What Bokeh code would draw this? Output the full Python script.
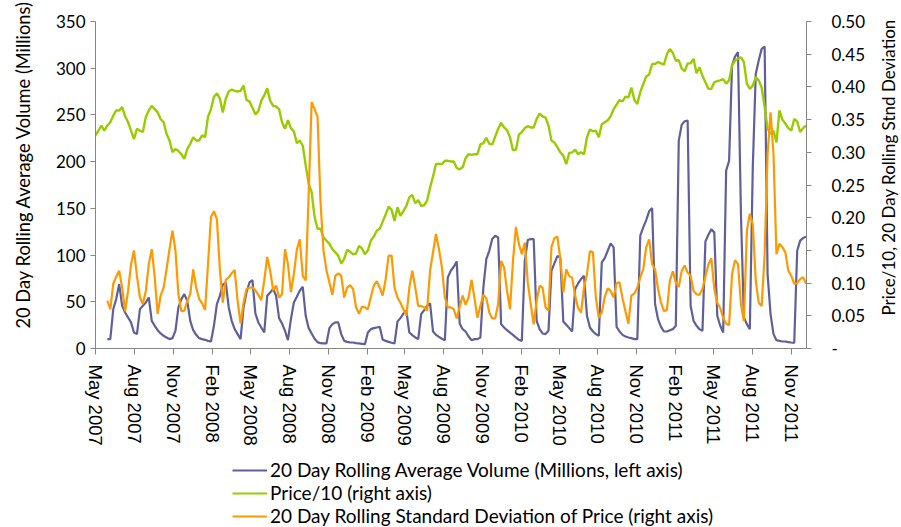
import numpy as np
import pandas as pd
from bokeh.plotting import figure
from bokeh.layouts import column, row
from bokeh.models import (Range1d, LinearAxis, FixedTicker, DatetimeTickFormatter,
                          NumeralTickFormatter, Legend, LegendItem, Title)
from bokeh.embed import file_html
from bokeh.resources import INLINE

nan = float("nan")

# ---------------- data (weekly samples) ----------------
start_date = "2007-05-01"
x_end_date = "2011-12-07"

tick_labels = ["May 2007", "Aug 2007", "Nov 2007", "Feb 2008", "May 2008", "Aug 2008",
               "Nov 2008", "Feb 2009", "May 2009", "Aug 2009", "Nov 2009", "Feb 2010",
               "May 2010", "Aug 2010", "Nov 2010", "Feb 2011", "May 2011", "Aug 2011",
               "Nov 2011"]
left_ticks = [0, 50, 100, 150, 200, 250, 300, 350]
right_ticks = [0.0, 0.05, 0.10, 0.15, 0.20, 0.25, 0.30, 0.35, 0.40, 0.45, 0.50]

price_10 = [
    0.326, 0.333, 0.341, 0.333, 0.341, 0.346, 0.356, 0.364, 0.364, 0.369,
    0.355, 0.346, 0.333, 0.320, 0.336, 0.333, 0.331, 0.354, 0.364, 0.371,
    0.366, 0.361, 0.351, 0.346, 0.328, 0.318, 0.300, 0.305, 0.302, 0.297,
    0.290, 0.305, 0.313, 0.323, 0.318, 0.318, 0.326, 0.323, 0.354, 0.366,
    0.385, 0.390, 0.382, 0.361, 0.382, 0.393, 0.396, 0.394, 0.393, 0.394,
    0.402, 0.380, 0.378, 0.368, 0.358, 0.363, 0.379, 0.387, 0.398, 0.379,
    0.371, 0.370, 0.366, 0.346, 0.336, 0.349, 0.337, 0.332, 0.314, 0.318,
    0.310, 0.280, 0.252, 0.239, 0.201, 0.183, 0.183, 0.170, 0.165, 0.160,
    0.152, 0.147, 0.142, 0.130, 0.137, 0.151, 0.148, 0.144, 0.145, 0.157,
    0.153, 0.144, 0.150, 0.165, 0.171, 0.180, 0.183, 0.194, 0.205, 0.217,
    0.212, 0.195, 0.216, 0.203, 0.210, 0.218, 0.231, 0.235, 0.222, 0.227,
    0.218, 0.219, 0.226, 0.246, 0.263, 0.282, 0.282, 0.282, 0.287, 0.287,
    0.286, 0.286, 0.276, 0.274, 0.277, 0.291, 0.297, 0.296, 0.297, 0.297,
    0.312, 0.314, 0.322, 0.313, 0.312, 0.324, 0.336, 0.345, 0.338, 0.334,
    0.323, 0.303, 0.304, 0.327, 0.331, 0.337, 0.340, 0.338, 0.338, 0.351,
    0.359, 0.355, 0.353, 0.341, 0.318, 0.315, 0.308, 0.300, 0.295, 0.282,
    0.299, 0.300, 0.304, 0.297, 0.300, 0.297, 0.323, 0.335, 0.332, 0.333,
    0.323, 0.343, 0.346, 0.349, 0.355, 0.366, 0.373, 0.380, 0.378, 0.385,
    0.384, 0.399, 0.380, 0.374, 0.392, 0.404, 0.416, 0.419, 0.435, 0.435,
    0.438, 0.436, 0.434, 0.450, 0.458, 0.452, 0.440, 0.441, 0.428, 0.424,
    0.436, 0.436, 0.443, 0.421, 0.430, 0.417, 0.407, 0.397, 0.397, 0.407,
    0.409, 0.410, 0.412, 0.405, 0.410, 0.433, 0.440, 0.443, 0.445, 0.438,
    0.405, 0.397, 0.402, 0.415, 0.410, 0.399, 0.369, 0.336, 0.328, 0.333,
    0.315, 0.364, 0.350, 0.344, 0.337, 0.333, 0.351, 0.347, 0.331, 0.337, 0.341,
]

volume_millions = [
    nan, nan, nan, nan, 10.0, 10.0, 42.0, 53.0, 69.0, 45.7,
    38.6, 33.2, 27.9, 17.1, 15.4, 42.1, 45.7, 49.3, 54.6, 29.6,
    24.3, 19.6, 16.1, 13.6, 11.8, 10.0, 11.1, 18.9, 43.9, 52.9,
    58.2, 51.0, 29.6, 19.6, 14.6, 11.1, 10.0, 9.3, 8.2, 7.5,
    24.3, 47.5, 56.4, 68.2, 70.7, 43.9, 29.6, 20.7, 15.4, 10.0,
    43.9, 60.0, 70.7, 73.2, 37.5, 27.9, 22.5, 17.1, 56.4, 60.0,
    63.6, 56.4, 32.5, 26.8, 18.9, 8.9, 31.4, 49.3, 55.4, 61.8,
    66.1, 35.0, 21.8, 16.1, 10.4, 6.8, 5.7, 5.4, 5.4, 21.8,
    26.1, 27.9, 27.9, 15.4, 8.2, 7.1, 6.4, 6.4, 5.7, 5.4,
    5.0, 4.6, 17.1, 20.7, 21.8, 22.5, 23.2, 9.3, 8.2, 7.1,
    6.1, 5.4, 28.9, 32.5, 37.5, 40.4, 17.1, 14.3, 11.8, 10.0,
    36.8, 41.1, 45.7, 48.2, 18.2, 14.6, 12.5, 10.4, 8.9, 76.1,
    83.2, 87.5, 93.2, 26.8, 20.7, 18.2, 12.9, 8.9, 10.0, 10.0,
    11.8, 65.4, 95.7, 104.6, 117.1, 120.7, 118.9, 26.1, 22.5, 19.6,
    17.1, 14.6, 11.8, 9.3, 8.2, 93.9, 116.1, 117.1, 117.1, 29.6,
    20.7, 16.1, 15.4, 18.9, 83.2, 91.1, 98.9, 97.5, 28.9, 25.4,
    21.8, 18.2, 63.6, 69.6, 74.3, 77.9, 35.0, 22.5, 18.2, 15.4,
    13.6, 92.1, 96.8, 104.6, 112.5, 108.2, 23.2, 18.2, 14.6, 12.9,
    11.8, 11.1, 10.0, 10.0, 120.7, 129.6, 137.5, 146.8, 150.4, 47.5,
    31.4, 23.2, 18.2, 18.2, 19.6, 20.7, 24.3, 222.5, 239.6, 243.2,
    243.9, 45.7, 29.6, 24.3, 20.7, 18.9, 114.6, 121.8, 127.5, 124.3,
    35.0, 24.3, 17.1, 190.4, 201.0, 302.9, 312.5, 317.1, 143.9, 33.2,
    26.1, 20.7, 193.9, 293.9, 308.2, 320.7, 323.2, 79.6, 36.8, 15.4,
    8.9, 8.2, 7.5, 7.5, 6.8, 6.4, 6.1, 104.6, 115.4, 118.2, 119.6,
]

price_std = [
    nan, nan, nan, nan, 0.073, 0.060, 0.099, 0.110, 0.119, 0.093,
    0.057, 0.088, 0.129, 0.150, 0.111, 0.078, 0.068, 0.088, 0.129, 0.152,
    0.109, 0.053, 0.081, 0.093, 0.121, 0.152, 0.180, 0.150, 0.083, 0.057,
    0.058, 0.073, 0.083, 0.121, 0.093, 0.076, 0.069, 0.059, 0.129, 0.201,
    0.210, 0.198, 0.121, 0.070, 0.105, 0.109, 0.115, 0.120, 0.073, 0.038,
    0.070, 0.091, 0.093, 0.093, 0.089, 0.082, 0.074, 0.104, 0.140, 0.119,
    0.089, 0.096, 0.078, 0.083, 0.152, 0.129, 0.086, 0.114, 0.151, 0.167,
    0.111, 0.104, 0.236, 0.377, 0.366, 0.354, 0.224, 0.150, 0.120, 0.101,
    0.082, 0.111, 0.115, 0.111, 0.078, 0.093, 0.097, 0.091, 0.063, 0.053,
    0.064, 0.063, 0.060, 0.079, 0.096, 0.103, 0.093, 0.081, 0.106, 0.142,
    0.142, 0.093, 0.078, 0.070, 0.060, 0.050, 0.093, 0.119, 0.093, 0.065,
    0.065, 0.063, 0.058, 0.119, 0.147, 0.175, 0.152, 0.124, 0.078, 0.063,
    0.063, 0.060, 0.046, 0.064, 0.081, 0.067, 0.078, 0.105, 0.077, 0.047,
    0.065, 0.082, 0.077, 0.055, 0.046, 0.046, 0.068, 0.134, 0.124, 0.088,
    0.060, 0.134, 0.186, 0.160, 0.144, 0.162, 0.101, 0.068, 0.037, 0.073,
    0.096, 0.093, 0.063, 0.058, 0.155, 0.169, 0.171, 0.137, 0.086, 0.121,
    0.111, 0.108, 0.081, 0.062, 0.055, 0.093, 0.114, 0.149, 0.147, 0.078,
    0.047, 0.055, 0.079, 0.092, 0.088, 0.078, 0.100, 0.101, 0.077, 0.057,
    0.038, 0.081, 0.084, 0.093, 0.109, 0.121, 0.155, 0.167, 0.129, 0.121,
    0.091, 0.070, 0.057, 0.059, 0.104, 0.118, 0.101, 0.094, 0.119, 0.127,
    0.116, 0.111, 0.088, 0.083, 0.082, 0.091, 0.110, 0.128, 0.138, 0.091,
    0.070, 0.062, 0.047, 0.038, 0.036, 0.114, 0.135, 0.129, 0.068, 0.042,
    0.180, 0.206, 0.190, 0.104, 0.070, 0.065, 0.144, 0.297, 0.361, 0.297,
    0.144, 0.160, 0.155, 0.147, 0.119, 0.111, 0.099, 0.100, 0.106, 0.109, 0.099,
]

series_labels = ["20 Day Rolling Average Volume (Millions, left axis)",
                 "Price/10 (right axis)",
                 "20 Day Rolling Standard Deviation of Price (right axis)"]
left_title = "20 Day Rolling Average Volume (Millions)"
right_title = "Price/10, 20 Day Rolling Stnd Deviation"

# ---------------- figure ----------------
dates = pd.date_range(start_date, periods=len(price_10), freq="7D")

FONT = "Lato"
AXIS_COLOR = "#868686"
PURPLE = "#5F5F9C"
GREEN = "#99CC00"
ORANGE = "#FF9900"
COLORS = [PURPLE, GREEN, ORANGE]
EM = "\u2003"   # blank lead-in to lift the rotated left title

W_MAIN = 868
W_SIDE = 32
H_MAIN = 452
H_LEG = 74
TOP, BOTTOM = 21, 348

p = figure(width=W_MAIN, height=H_MAIN, x_axis_type="datetime",
           x_range=Range1d(pd.Timestamp(start_date), pd.Timestamp(x_end_date)),
           y_range=Range1d(0, 350),
           output_backend="svg", toolbar_location=None,
           min_border_left=95, min_border_right=W_MAIN - 809, min_border_top=TOP,
           min_border_bottom=H_MAIN - BOTTOM)
p.extra_y_ranges = {"right": Range1d(0, 0.5)}
p.outline_line_color = None
p.xgrid.grid_line_color = None
p.ygrid.grid_line_color = None
p.background_fill_color = "white"

p.line(dates, volume_millions, line_color=PURPLE, line_width=2.2)
p.line(dates, price_10, line_color=GREEN, line_width=2.4, y_range_name="right")
p.line(dates, price_std, line_color=ORANGE, line_width=2.2, y_range_name="right")

# x axis
xax = p.xaxis[0]
xax.ticker = FixedTicker(ticks=[pd.to_datetime(t, format="%b %Y").timestamp() * 1000
                                for t in tick_labels])
xax.formatter = DatetimeTickFormatter(days="%b %Y", months="%b %Y", years="%b %Y",
                                      hours="%b %Y", minutes="%b %Y", seconds="%b %Y",
                                      milliseconds="%b %Y", microseconds="%b %Y")
xax.major_label_orientation = "vertical"
xax.major_label_text_font = "Liberation Sans"
xax.major_label_text_font_size = "18.5px"
xax.major_label_standoff = 10

# left axis
yax = p.yaxis[0]
yax.ticker = FixedTicker(ticks=left_ticks)
yax.axis_label = EM * 3 + left_title
yax.major_label_text_font = FONT
yax.major_label_text_font_size = "17px"
yax.major_label_standoff = 5
yax.axis_label_text_font = FONT
yax.axis_label_text_font_size = "18.3px"
yax.axis_label_text_font_style = "normal"
yax.axis_label_standoff = 19

# right axis (its title is drawn in the narrow strip to the right)
rax = LinearAxis(y_range_name="right", ticker=FixedTicker(ticks=right_ticks),
                 formatter=NumeralTickFormatter(format="0.00"))
rax.major_label_overrides = {0: "-"}
rax.major_label_text_font = FONT
rax.major_label_text_font_size = "17px"
rax.major_label_standoff = 20
p.add_layout(rax, "right")

for ax in (xax, yax, rax):
    ax.axis_line_color = AXIS_COLOR
    ax.major_tick_line_color = AXIS_COLOR
    ax.minor_tick_line_color = None
    ax.major_tick_in = 0
    ax.major_tick_out = 5
    ax.major_label_text_color = "black"
    ax.axis_label_text_color = "black"
xax.major_tick_out = 6

# ---------------- narrow strip carrying the right-hand axis title ----------------
side = figure(width=W_SIDE, height=H_MAIN, x_range=Range1d(0, 1), y_range=Range1d(0, 1),
              output_backend="svg", toolbar_location=None,
              min_border_left=W_SIDE - 2, min_border_right=2,
              min_border_top=TOP, min_border_bottom=H_MAIN - BOTTOM)
side.axis.visible = False
side.grid.visible = False
side.outline_line_color = None
side.line([nan, nan], [nan, nan], line_alpha=0)
side.add_layout(Title(text=right_title, align="left", offset=33, standoff=0,
                      vertical_align="bottom", text_font=FONT, text_font_size="17px",
                      text_font_style="normal", text_color="black"), "left")

# ---------------- legend strip below the chart ----------------
lg = figure(width=W_MAIN + W_SIDE, height=H_LEG, x_range=Range1d(0, 1),
            y_range=Range1d(0, 1), output_backend="svg", toolbar_location=None,
            min_border=0, min_border_left=0, min_border_right=0,
            min_border_top=0, min_border_bottom=0)
lg.axis.visible = False
lg.grid.visible = False
lg.outline_line_color = None
items = []
for lab, col in zip(series_labels, COLORS):
    r = lg.line([nan, nan], [nan, nan], line_color=col, line_width=2.2)
    items.append(LegendItem(label=lab, renderers=[r]))
legend = Legend(items=items, location=(232, -1), orientation="vertical",
                glyph_width=35, glyph_height=22, label_height=22, spacing=0,
                padding=0, margin=0, label_standoff=3,
                border_line_alpha=0, background_fill_alpha=0,
                label_text_font=FONT, label_text_font_size="19px",
                label_text_color="black")
lg.add_layout(legend, "center")

layout = column(row(p, side, spacing=0), lg, spacing=0)
open("out.html", "w").write(file_html(layout, INLINE))
